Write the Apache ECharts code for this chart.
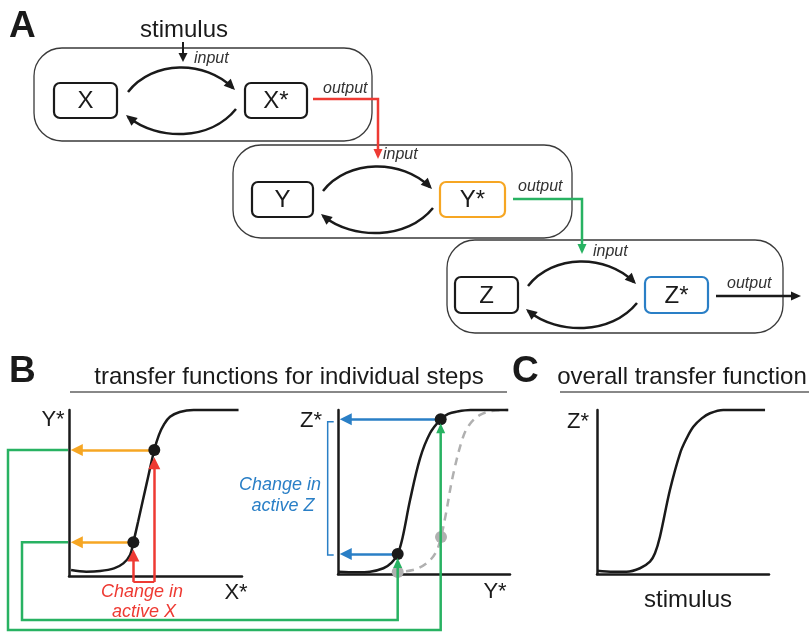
<!DOCTYPE html>
<html>
<head>
<meta charset="utf-8">
<script src="https://cdn.jsdelivr.net/npm/echarts@6.0.0/dist/echarts.min.js"></script>
<style>
  html, body { margin: 0; padding: 0; background: #fff; }
  #chart { width: 809px; height: 633px; }
</style>
</head>
<body>
<div id="chart"></div>
<script>
// ---- data (activity levels, 0-100) ----
// B left: Y* as a function of X*
const xyCurveX = [1.2, 10, 18, 26, 31.4, 35.3, 37.2, 40, 44.9, 49.3, 52, 55, 58.4, 64, 72, 85, 98]
const xyCurveY = [3.6, 2.6, 3.0, 4.6, 7.6, 12.7, 20.3, 33, 55.8, 75.9, 85, 91.5, 95.9, 98.8, 100, 100, 100]
const xyDotsX = [37.2, 49.3]
const xyDotsY = [20.3, 75.9]
const xyBracketY = -3.6

// B right: Z* as a function of Y* (solid) and the shifted curve (dashed)
const yzCurveX = [0.2, 10.9, 18.6, 26.4, 31.2, 34.7, 37.5, 41.9, 47.7, 53.5, 59.7, 64.1, 69.0, 77, 87, 99]
const yzCurveY = [1.4, 1.0, 1.4, 3.5, 6.9, 12.2, 22, 45.1, 70.5, 85.8, 94.3, 97.6, 99.0, 100, 100, 100]
const yzDotsX = [34.7, 59.7]
const yzDotsY = [12.2, 94.3]
const shiftedX = [31.4, 43.6, 51.7, 57.0, 59.9, 62.6, 66.9, 72.7, 76.7, 82.6, 89.5, 98.8]
const shiftedY = [1.2, 2.4, 6.7, 13.4, 22.6, 36, 60.4, 83.5, 91.5, 97.0, 99.4, 100]
const shiftedDotsX = [34.7, 59.9]
const shiftedDotsY = [1.2, 22.6]
const zBracketY = [11.6, 92.9]

// C: Z* as a function of the stimulus
const overallX = [0.2, 9.5, 17.2, 25, 30.8, 33.7, 36.6, 42.4, 48.3, 52.1, 56, 60.9, 65.7, 73.4, 83.1, 97.7]
const overallY = [2.0, 1.4, 1.4, 3.5, 7.5, 12.6, 22.7, 51.2, 73.6, 82.7, 89.8, 94.9, 98, 100, 100, 100]

// labels
const species = ['X', 'Y', 'Z']
const activeForms = ['X*', 'Y*', 'Z*']
const plotAxisNames = [['X*', 'Y*'], ['Y*', 'Z*'], ['stimulus', 'Z*']]

const INK = '#1a1a1a'
const ORANGE = '#f6a623'
const RED = '#ee3a33'
const GREEN = '#28b262'
const BLUE = '#2a7fc6'
const GRAY = '#b0b0b0'
const FONT = '"Liberation Sans", Arial, sans-serif'

const chart = echarts.init(document.getElementById('chart'))

const zip = (xs, ys) => xs.map((x, i) => [x, ys[i]])

const grids = [
  { left: 69, top: 410, width: 173, height: 166 },
  { left: 338, top: 410, width: 172, height: 164 },
  { left: 597, top: 410, width: 172, height: 164 },
]

const axis = i => ({
  gridIndex: i,
  type: 'value',
  min: 0,
  max: 100,
  axisLine: { show: true, onZero: false, lineStyle: { color: INK, width: 2.5 } },
  axisTick: { show: false },
  axisLabel: { show: false },
  splitLine: { show: false },
})

const curve = (i, xs, ys, style) => ({
  type: 'line',
  xAxisIndex: i,
  yAxisIndex: i,
  data: zip(xs, ys),
  smooth: 0.35,
  symbol: 'none',
  lineStyle: Object.assign({ color: INK, width: 2.5 }, style),
  clip: false,
  silent: true,
  z: 3,
})

const arrows = (i, segs, color, opts) => Object.assign({
  type: 'lines',
  coordinateSystem: 'cartesian2d',
  xAxisIndex: i,
  yAxisIndex: i,
  symbol: ['none', 'triangle'],
  symbolSize: 12,
  lineStyle: { color: color, width: 2.5, opacity: 1, curveness: 0 },
  data: segs.map(c => ({ coords: c })),
  clip: false,
  silent: true,
  z: 4,
}, opts)

const dots = (i, xs, ys, color, z) => ({
  type: 'scatter',
  xAxisIndex: i,
  yAxisIndex: i,
  data: zip(xs, ys),
  symbolSize: 12,
  itemStyle: { color: color, opacity: 1 },
  silent: true,
  z: z,
})

const option = {
  animation: false,
  backgroundColor: '#fff',
  grid: grids,
  xAxis: [axis(0), axis(1), axis(2)],
  yAxis: [axis(0), axis(1), axis(2)],
  series: [
    // B left
    curve(0, xyCurveX, xyCurveY),
    arrows(0, xyDotsX.map((x, k) => [[x, xyDotsY[k]], [4.5, xyDotsY[k]]]), ORANGE),
    arrows(0, xyDotsX.map((x, k) => [[x, xyBracketY], [x, xyDotsY[k] - 8]]), RED),
    arrows(0, [[[xyDotsX[0], xyBracketY], [xyDotsX[1], xyBracketY]]], RED,
      { symbol: 'none', lineStyle: { color: RED, width: 2, opacity: 1 } }),
    dots(0, xyDotsX, xyDotsY, INK, 6),
    // B right
    curve(1, shiftedX, shiftedY, { color: GRAY, width: 2.5, type: [8, 6] }),
    dots(1, shiftedDotsX, shiftedDotsY, GRAY, 2),
    curve(1, yzCurveX, yzCurveY),
    arrows(1, yzDotsX.map((x, k) => [[x, yzDotsY[k]], [4.5, yzDotsY[k]]]), BLUE),
    arrows(1, [[[-2.5, zBracketY[1]], [-6, zBracketY[1]], [-6, zBracketY[0]], [-2.5, zBracketY[0]]]], BLUE,
      { symbol: 'none', polyline: true, lineStyle: { color: BLUE, width: 1.5, opacity: 1 } }),
    dots(1, yzDotsX, yzDotsY, INK, 6),
    // C
    curve(2, overallX, overallY),
  ],
}

chart.setOption(option)

// ---- diagram pieces ----
function head(tip, ang, color, len, wid) {
  len = len || 11
  wid = wid || 10
  const c = Math.cos(ang), s = Math.sin(ang)
  const bx = tip[0] - len * c, by = tip[1] - len * s
  return {
    type: 'polygon',
    shape: { points: [tip, [bx - wid / 2 * s, by + wid / 2 * c], [bx + wid / 2 * s, by - wid / 2 * c]] },
    style: { fill: color },
    silent: true,
    z: 12,
  }
}

function text(x, y, s, size, opts) {
  return {
    type: 'text',
    x: x,
    y: y,
    style: Object.assign({
      text: s, fontSize: size, fontFamily: FONT, fill: INK, align: 'center', verticalAlign: 'middle',
    }, opts),
    silent: true,
    z: 20,
  }
}

const poly = (points, color, w) => ({
  type: 'polyline', shape: { points: points },
  style: { stroke: color, lineWidth: w || 2.5, fill: null }, silent: true, z: 10,
})

const rect = (b, color, w, r) => ({
  type: 'rect', shape: { x: b[0], y: b[1], width: b[2], height: b[3], r: r },
  style: { stroke: color, lineWidth: w, fill: null }, silent: true, z: 5,
})

const bez = (p0, c1, c2, p1) => ({
  type: 'bezierCurve',
  shape: { x1: p0[0], y1: p0[1], cpx1: c1[0], cpy1: c1[1], cpx2: c2[0], cpy2: c2[1], x2: p1[0], y2: p1[1] },
  style: { stroke: INK, lineWidth: 2.5, fill: null }, silent: true, z: 10,
})

// activation cycles of panel A
const cycles = [
  { outer: [34, 48, 338, 93], plain: [54, 83, 63, 35], star: [245, 83, 62, 35], L: 128, R: 235, mid: 101, color: INK },
  { outer: [233, 145, 339, 93], plain: [252, 182, 61, 35], star: [440, 182, 65, 35], L: 323, R: 432, mid: 200, color: ORANGE },
  { outer: [447, 240, 336, 93], plain: [455, 277, 63, 36], star: [645, 277, 63, 36], L: 528, R: 636, mid: 295, color: BLUE },
]

const g = []
cycles.forEach((c, k) => {
  g.push(rect(c.outer, '#3a3a3a', 1.3, 28))
  g.push(rect(c.plain, INK, 2.2, 6))
  g.push(rect(c.star, c.color, 2.2, 6))
  g.push(text(c.plain[0] + c.plain[2] / 2, c.plain[1] + c.plain[3] / 2 + 1, species[k], 24))
  g.push(text(c.star[0] + c.star[2] / 2, c.star[1] + c.star[3] / 2 + 1, activeForms[k], 24))
  const m = c.mid
  const t0 = [c.L, m - 9], t1 = [c.R - 2, m - 13], tc1 = [c.L + 25, m - 41], tc2 = [c.R - 30, m - 41]
  g.push(bez(t0, tc1, tc2, t1))
  g.push(head([t1[0] + 2, t1[1] + 2], Math.atan2(t1[1] - tc2[1], t1[0] - tc2[0]), INK))
  const b0 = [c.R + 1, m + 8], b1 = [c.L, m + 16], bc1 = [c.R - 25, m + 40], bc2 = [c.L + 30, m + 40]
  g.push(bez(b0, bc1, bc2, b1))
  g.push(head([b1[0] - 2, b1[1] - 2], Math.atan2(b1[1] - bc2[1], b1[0] - bc2[0]), INK))
})

// stimulus, inputs and outputs
g.push(text(184, 30, 'stimulus', 24))
g.push(poly([[183, 42], [183, 54]], INK, 2))
g.push(head([183, 62], Math.PI / 2, INK, 9, 9))
const io = { fontSize: 16, fontStyle: 'italic', align: 'left', fill: '#333' }
g.push(text(194, 59, 'input', 16, io))
g.push(text(383, 155, 'input', 16, io))
g.push(text(593, 252, 'input', 16, io))
g.push(text(323, 89, 'output', 16, io))
g.push(text(518, 187, 'output', 16, io))
g.push(text(727, 284, 'output', 16, io))
g.push(poly([[313, 99], [378, 99], [378, 150]], RED))
g.push(head([378, 159], Math.PI / 2, RED, 10, 9))
g.push(poly([[513, 199], [582, 199], [582, 245]], GREEN))
g.push(head([582, 254], Math.PI / 2, GREEN, 10, 9))
g.push(poly([[716, 296], [792, 296]], INK, 2.5))
g.push(head([801, 296], 0, INK, 10, 9))

// panel letters and titles
const bold = { fontWeight: 'bold', align: 'left' }
g.push(text(9, 27, 'A', 37, bold))
g.push(text(9, 372, 'B', 37, bold))
g.push(text(512, 372, 'C', 37, bold))
g.push(text(289, 377, 'transfer functions for individual steps', 24))
g.push(poly([[70, 392], [507, 392]], '#888', 2))
g.push(text(682, 377, 'overall transfer function', 24))
g.push(poly([[560, 392], [809, 392]], '#888', 2))

// axis names
g.push(text(53, 420, plotAxisNames[0][1], 22))
g.push(text(236, 593, plotAxisNames[0][0], 22))
g.push(text(311, 421, plotAxisNames[1][1], 22))
g.push(text(495, 592, plotAxisNames[1][0], 22))
g.push(text(578, 422, plotAxisNames[2][1], 22))
g.push(text(688, 600, plotAxisNames[2][0], 24))

// annotations
const ann = { fontStyle: 'italic', fill: RED }
g.push(text(142, 592, 'Change in', 18, ann))
g.push(text(144, 612, 'active X', 18, ann))
const annZ = { fontStyle: 'italic', fill: BLUE }
g.push(text(280, 485, 'Change in', 18, annZ))
g.push(text(283, 506, 'active Z', 18, annZ))

const px = (gi, pt) => chart.convertToPixel({ gridIndex: gi }, pt)
const yHi = px(0, [0, xyDotsY[1]])
const yLo = px(0, [0, xyDotsY[0]])
const zHi = px(1, [yzDotsX[1], yzDotsY[1]])
const zLo = px(1, [yzDotsX[0], yzDotsY[0]])
g.push(poly([[yHi[0] - 1, yHi[1]], [8, yHi[1]], [8, 630], [zHi[0], 630], [zHi[0], zHi[1] + 12]], GREEN))
g.push(head([zHi[0], zHi[1] + 4], -Math.PI / 2, GREEN, 10, 9))
g.push(poly([[yLo[0] - 1, yLo[1]], [22, yLo[1]], [22, 620], [zLo[0], 620], [zLo[0], zLo[1] + 12]], GREEN))
g.push(head([zLo[0], zLo[1] + 4], -Math.PI / 2, GREEN, 10, 9))

chart.setOption({ graphic: g })
</script>
</body>
</html>
